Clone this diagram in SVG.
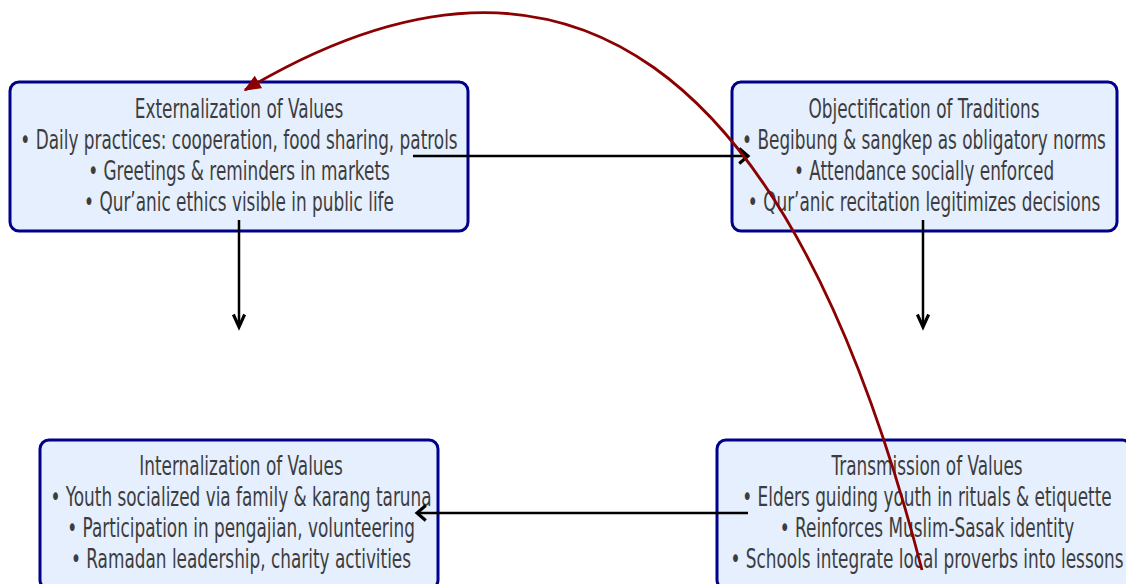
<svg xmlns="http://www.w3.org/2000/svg" width="1126" height="584" viewBox="0 0 1126 584">
<style>
.box{fill:#e5effd;stroke:#00008b;stroke-width:3}
.t{font-family:"DejaVu Sans","Liberation Sans",sans-serif;font-size:26px;fill:#3d3d3d;text-anchor:middle}
.blk{fill:none;stroke:#000;stroke-width:2.5}
.red{fill:none;stroke:#8b0000;stroke-width:2.8}
</style>
<defs>
<marker id="hv" markerUnits="userSpaceOnUse" markerWidth="20" markerHeight="20" refX="10" refY="0" viewBox="-2 -8 14 16" orient="auto" overflow="visible">
<path d="M0,-4.5 L10,0 L0,4.5" fill="none" stroke="#000" stroke-width="2.5"/>
</marker>
<marker id="hh" markerUnits="userSpaceOnUse" markerWidth="20" markerHeight="20" refX="7" refY="0" viewBox="-2 -8 12 16" orient="auto" overflow="visible">
<path d="M0,-6 L7,0 L0,6" fill="none" stroke="#000" stroke-width="2.5"/>
</marker>
<marker id="hr" markerUnits="userSpaceOnUse" markerWidth="20" markerHeight="20" refX="12" refY="0" viewBox="-2 -8 16 16" orient="auto" overflow="visible">
<path d="M0,-5 L12,0 L0,5 z" fill="#8b0000" stroke="#8b0000" stroke-width="1"/>
</marker>
</defs>
<g id="node-externalization">
<rect class="box" x="10" y="82" width="458" height="149" rx="9"/>
<g transform="translate(239,0) scale(0.65,1)">
<text class="t" x="0" y="118">Externalization of Values</text>
<text class="t" x="0" y="149">• Daily practices: cooperation, food sharing, patrols</text>
<text class="t" x="0" y="180">• Greetings &amp; reminders in markets</text>
<text class="t" x="0" y="211">• Qur’anic ethics visible in public life</text>
</g>
</g>
<g id="node-objectification">
<rect class="box" x="732" y="82" width="385" height="149" rx="9"/>
<g transform="translate(924,0) scale(0.65,1)">
<text class="t" x="0" y="118">Objectification of Traditions</text>
<text class="t" x="0" y="149">• Begibung &amp; sangkep as obligatory norms</text>
<text class="t" x="0" y="180">• Attendance socially enforced</text>
<text class="t" x="0" y="211">• Qur’anic recitation legitimizes decisions</text>
</g>
</g>
<g id="node-internalization">
<rect class="box" x="40" y="440" width="398" height="149" rx="9"/>
<g transform="translate(241,0) scale(0.65,1)">
<text class="t" x="0" y="475">Internalization of Values</text>
<text class="t" x="0" y="506">• Youth socialized via family &amp; karang taruna</text>
<text class="t" x="0" y="537">• Participation in pengajian, volunteering</text>
<text class="t" x="0" y="568">• Ramadan leadership, charity activities</text>
</g>
</g>
<g id="node-transmission">
<rect class="box" x="717" y="440" width="414" height="149" rx="9"/>
<g transform="translate(927,0) scale(0.65,1)">
<text class="t" x="0" y="475">Transmission of Values</text>
<text class="t" x="0" y="506">• Elders guiding youth in rituals &amp; etiquette</text>
<text class="t" x="0" y="537">• Reinforces Muslim-Sasak identity</text>
<text class="t" x="0" y="568">• Schools integrate local proverbs into lessons</text>
</g>
</g>
<g id="connectors">
<path class="blk" d="M413,156 L748,156" marker-end="url(#hh)"/>
<path class="blk" d="M239,220 L239,327" marker-end="url(#hv)"/>
<path class="blk" d="M923,220 L923,327" marker-end="url(#hv)"/>
<path class="blk" d="M748,513 L417,513" marker-end="url(#hh)"/>
<path class="red" d="M922,570 Q724,-195 245,90" marker-end="url(#hr)"/>
</g>
</svg>
